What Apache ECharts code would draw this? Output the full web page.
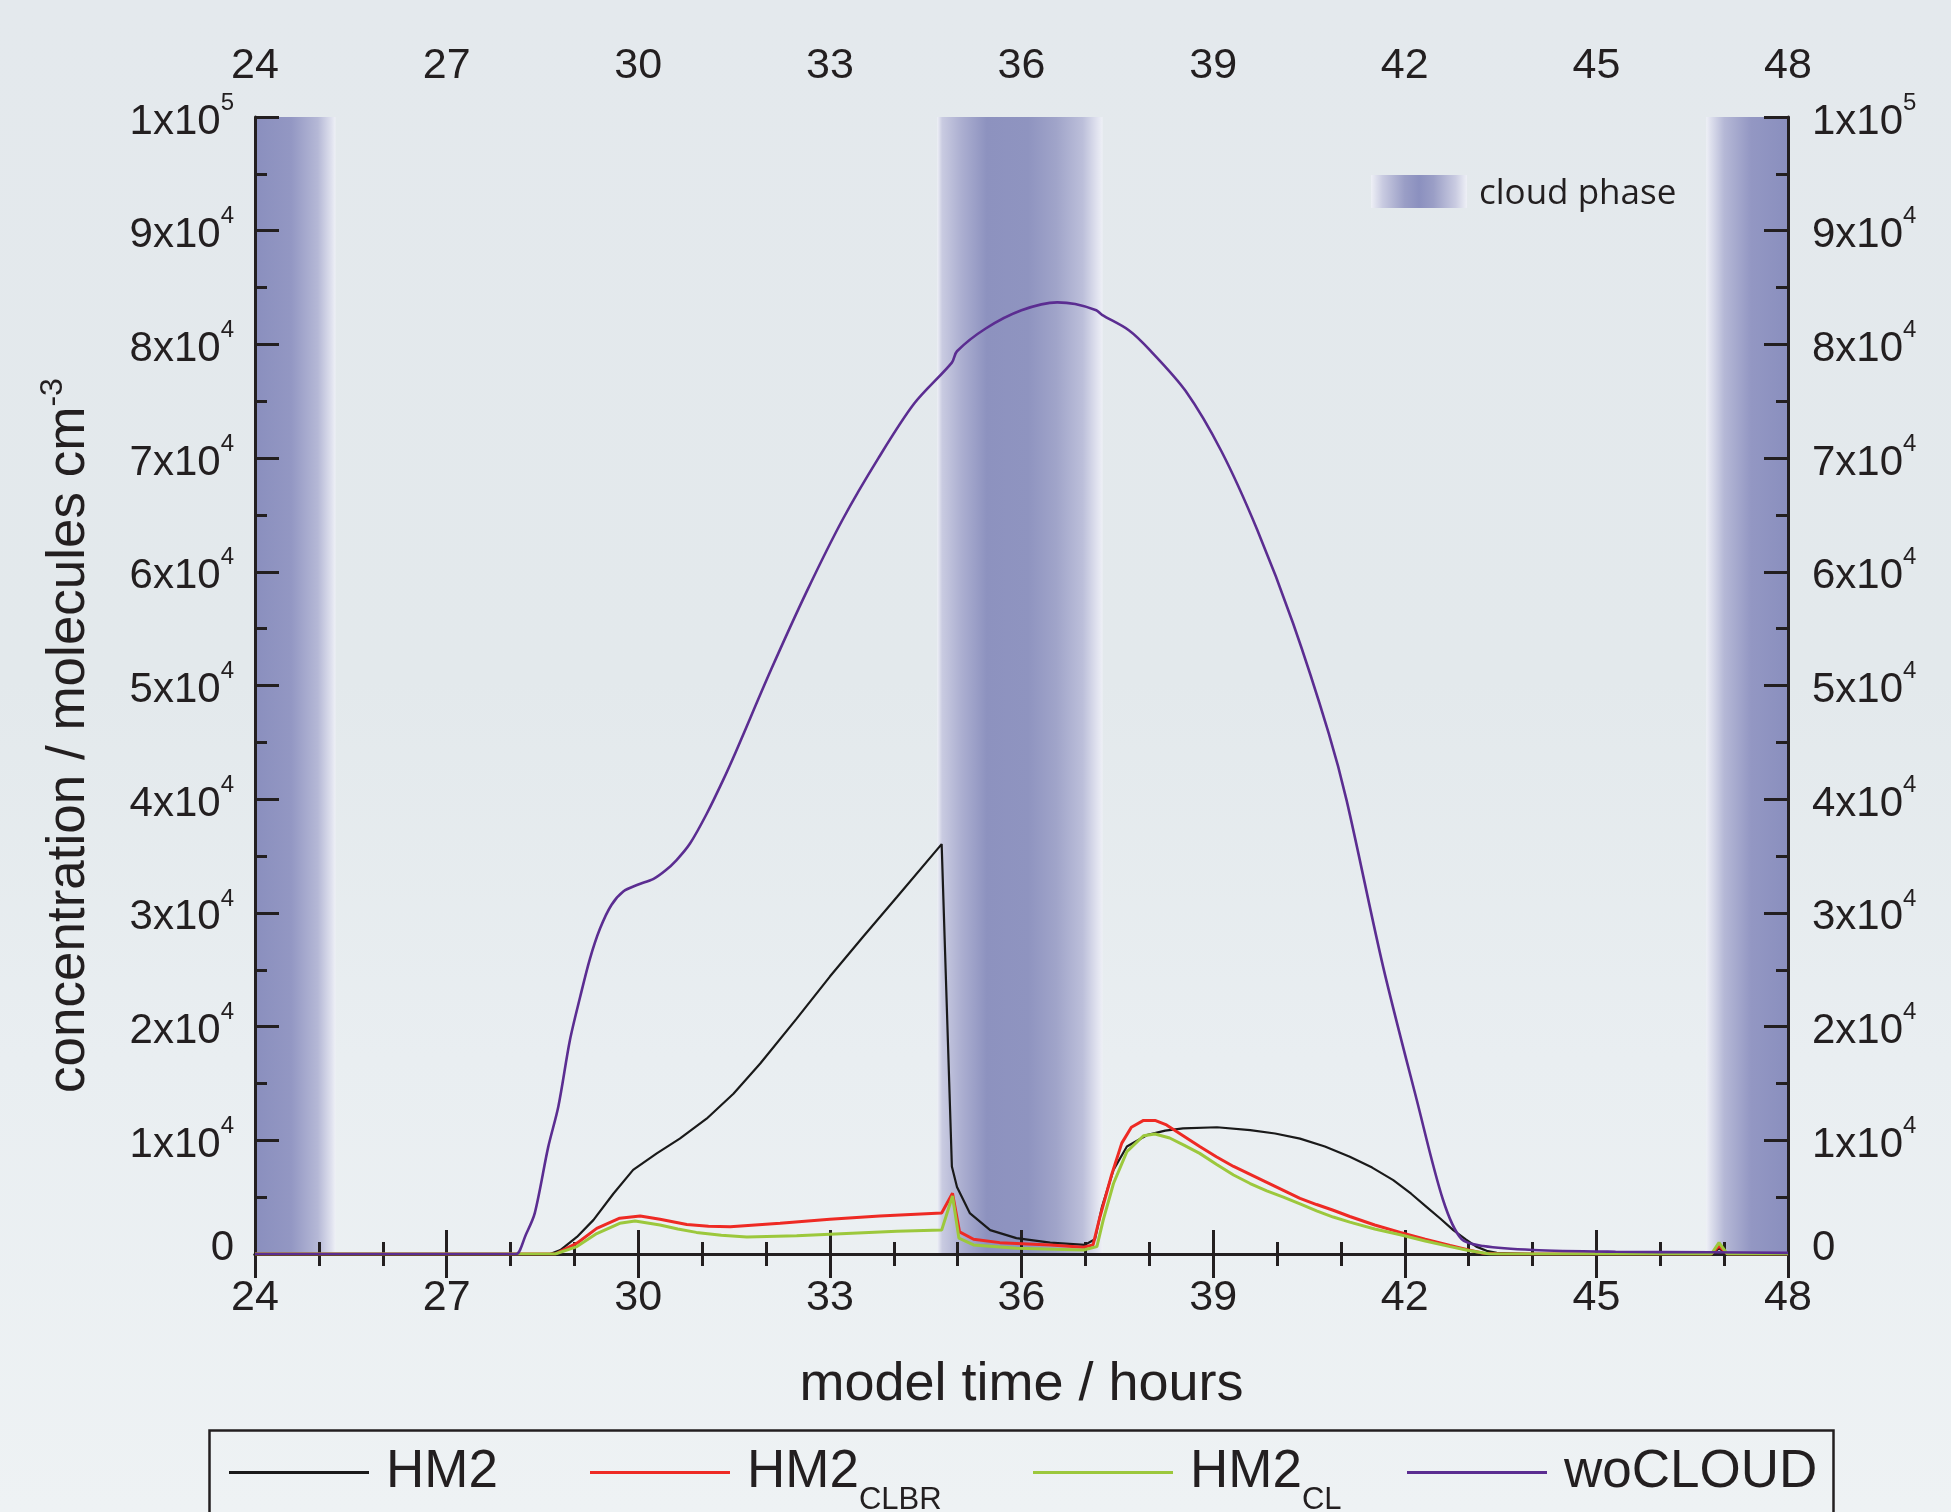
<!DOCTYPE html>
<html><head><meta charset="utf-8">
<script src="https://cdn.jsdelivr.net/npm/echarts@6/dist/echarts.min.js"></script>
<style>html,body{margin:0;padding:0;background:#e8edf0}#c{width:1951px;height:1512px}</style>
</head><body><div id="c"></div>
<script>
// ---- data: [model time (h), concentration (molecules cm^-3)] ----
const hm2 = [[24,0],[28.62,0],[28.78,350],[29.04,1500],[29.30,3000],[29.61,5300],[29.92,7400],[30.29,8850],[30.65,10150],[31.07,11900],[31.49,14100],[31.91,16750],[32.48,20700],[33.00,24400],[33.52,27900],[34.05,31400],[34.75,36050],[34.91,7700],[34.99,5900],[35.19,3600],[35.51,2100],[35.92,1400],[36.45,1000],[36.99,800],[37.15,1300],[37.26,4150],[37.44,7400],[37.65,9450],[37.96,10450],[38.25,10850],[38.53,11050],[39.06,11150],[39.58,10900],[39.97,10600],[40.36,10150],[40.75,9450],[41.14,8550],[41.49,7600],[41.82,6500],[42.10,5300],[42.34,4150],[42.56,3100],[42.76,2100],[42.95,1300],[43.12,650],[43.30,250],[43.44,100],[44,0],[46.8,0],[46.92,500],[47.05,0],[48,0]];
const hm2clbr = [[24,0],[28.7,0],[29.04,950],[29.35,2250],[29.71,3150],[30.03,3350],[30.34,3050],[30.76,2600],[31.10,2450],[31.44,2400],[32.22,2700],[33.00,3050],[33.78,3350],[34.75,3600],[34.92,5350],[35.03,1950],[35.25,1300],[35.66,1000],[36.45,800],[36.97,600],[37.12,800],[37.23,3300],[37.41,6950],[37.57,9750],[37.72,11150],[37.91,11750],[38.09,11750],[38.27,11350],[38.53,10400],[38.79,9450],[39.05,8550],[39.32,7700],[39.58,7000],[39.84,6300],[40.10,5600],[40.36,4900],[40.62,4350],[40.88,3850],[41.14,3300],[41.53,2550],[41.93,1900],[42.32,1300],[42.71,750],[43.00,350],[43.23,60],[43.5,0],[46.8,0],[46.92,700],[47.05,0],[48,0]];
const hm2cl = [[24,0],[28.7,0],[29.04,650],[29.35,1800],[29.71,2700],[29.95,2900],[30.34,2550],[30.62,2200],[30.91,1900],[31.30,1650],[31.70,1500],[32.48,1600],[33.26,1800],[34.05,2000],[34.75,2100],[34.92,5100],[35.02,1400],[35.25,800],[35.92,500],[36.97,350],[37.18,650],[37.28,3000],[37.44,6200],[37.65,9000],[37.91,10400],[38.09,10550],[38.32,10200],[38.55,9550],[38.79,8850],[39.05,7900],[39.32,6950],[39.58,6200],[39.84,5550],[40.10,5000],[40.36,4400],[40.62,3800],[40.88,3250],[41.14,2800],[41.53,2200],[41.93,1700],[42.32,1150],[42.71,650],[43.00,300],[43.33,0],[46.8,0],[46.92,1000],[47.05,0],[48,0]];
const wocloud = [[24,0],[27.95,0],[28.09,0],[28.24,1700],[28.38,3600],[28.59,9400],[28.75,13000],[28.93,18800],[29.09,22600],[29.24,25900],[29.40,28600],[29.58,30700],[29.77,31900],[29.98,32450],[30.24,33000],[30.42,33700],[30.60,34650],[30.81,36100],[31.07,38700],[31.33,41700],[31.53,44200],[32.08,51400],[32.64,58300],[33.20,64600],[33.76,70000],[34.32,74800],[34.91,78400],[34.99,79400],[35.44,81400],[36.00,83000],[36.56,83700],[36.84,83550],[37.17,83000],[37.26,82600],[37.68,81250],[38.01,79500],[38.57,75900],[39.13,70600],[39.69,63700],[40.25,55500],[40.81,45800],[41.09,39900],[41.66,25300],[42.19,13500],[42.60,4750],[42.89,1300],[43.23,700],[44.01,350],[45.3,200],[46.78,150],[48,100]];
const cloudPhases = [[24,25.26],[34.68,37.27],[46.72,48]];
const seriesNames = ['HM2','HM2_CLBR','HM2_CL','woCLOUD'];
const xRange = [24,48], xStep = 3;
const yRange = [0,100000], yStep = 10000;

const FONT = 'Liberation Sans';
const INK = '#231f20';
const colors = ['#1a1a1a','#ee2a24','#9cc83c','#5b2d91'];
const widths = [2.2,3,3,2.6];
const smooths = [false,false,false,0.3];

const G = (stops)=>new echarts.graphic.LinearGradient(0,0,1,0,stops.map(s=>({offset:s[0],color:s[1]})));
const bandLeft = G([[0,'#8a8fbe'],[0.45,'#9397c3'],[0.78,'#b5b8d6'],[0.95,'#dfe1ee'],[1,'#eef0f6']]);
const bandMid = G([[0,'#eef0f6'],[0.03,'#c9cbe1'],[0.15,'#abaed0'],[0.3,'#8d92bf'],[0.55,'#8f94c0'],[0.72,'#a0a4c9'],[0.88,'#bcbfda'],[0.97,'#e2e4f0'],[1,'#eef0f6']]);
const bandRight = G([[0,'#eef0f6'],[0.05,'#dfe1ee'],[0.22,'#b5b8d6'],[0.55,'#9397c3'],[1,'#8a8fbe']]);
const bandStyles = [bandLeft, bandMid, bandRight];

const yFmt = v => v===0 ? '{z|0}' : (v===100000 ? '{b|1x10}{s|5}' : '{b|'+(v/10000)+'x10}{s|4}');
const yRich = {
  b:{fontSize:42,lineHeight:42,padding:[10,0,0,0],fontFamily:FONT,color:INK},
  s:{fontSize:24,lineHeight:24,padding:[0,0,28,0],fontFamily:FONT,color:INK},
  z:{fontSize:42,lineHeight:42,padding:[0,0,12,0],fontFamily:FONT,color:INK}
};
const axisLine = {show:true,lineStyle:{color:INK,width:3}};
const axisTick = {show:true,inside:true,length:24,lineStyle:{color:INK,width:3}};
const minorTickX = {show:true,splitNumber:3,length:12,lineStyle:{color:INK,width:3}};
const minorTickY = {show:true,splitNumber:2,length:12,lineStyle:{color:INK,width:3}};

const xBase = {type:'value',min:xRange[0],max:xRange[1],interval:xStep,z:3,axisLine,axisTick,minorTick:minorTickX,splitLine:{show:false}};
const yBase = {type:'value',min:yRange[0],max:yRange[1],interval:yStep,z:3,axisLine,axisTick,minorTick:minorTickY,splitLine:{show:false}};

const legendFmt = n => n==='HM2_CLBR' ? '{m|HM2}{u|CLBR}' : (n==='HM2_CL' ? '{m|HM2}{u|CL}' : '{m|'+n+'}');
const legendRich = {
  m:{fontSize:53,lineHeight:53,padding:[17,0,17,0],fontFamily:FONT,color:INK},
  u:{fontSize:31,lineHeight:31,padding:[56,0,0,0],fontFamily:FONT,color:INK}
};
const legendLefts = [229,590,1033,1407];

const chart = echarts.init(document.getElementById('c'));
chart.setOption({
  animation:false,
  backgroundColor:new echarts.graphic.LinearGradient(0,0,0,1,[{offset:0,color:'#e4e9ed'},{offset:0.45,color:'#e3e9ec'},{offset:0.7,color:'#e9eef1'},{offset:1,color:'#eef2f4'}]),
  grid:{left:255,top:117,width:1533,height:1137,containLabel:false},
  xAxis:[
    Object.assign({},xBase,{position:'bottom',axisLabel:{fontSize:43,fontFamily:FONT,color:INK,margin:23},
      name:'model time / hours',nameLocation:'middle',nameGap:104,nameTextStyle:{fontSize:54,fontFamily:FONT,color:INK}}),
    Object.assign({},xBase,{position:'top',axisLabel:{fontSize:43,fontFamily:FONT,color:INK,margin:29}})
  ],
  yAxis:[
    Object.assign({},yBase,{position:'left',axisLabel:{margin:21,formatter:yFmt,rich:yRich},
      name:'{m|concentration / molecules cm}{s|-3}',nameLocation:'middle',nameGap:165,
      nameTextStyle:{padding:[0,100,0,0],rich:{m:{fontSize:53,lineHeight:53,padding:[11,0,0,0],fontFamily:FONT,color:INK},s:{fontSize:32,lineHeight:32,verticalAlign:'top',fontFamily:FONT,color:INK}}}}),
    Object.assign({},yBase,{position:'right',axisLabel:{margin:24,formatter:yFmt,rich:yRich}})
  ],
  legend: seriesNames.map((n,i)=>({data:[n],left:legendLefts[i],top:1429,padding:0,icon:'rect',itemWidth:140,itemHeight:3,
    itemStyle:{borderWidth:0},formatter:legendFmt,textStyle:{padding:[0,0,0,12],rich:legendRich}})),
  graphic:[
    {type:'rect',left:207,top:1428,shape:{width:1624,height:140},style:{fill:'none',stroke:INK,lineWidth:2.5},z:10},
    {type:'rect',x:1371,y:175,shape:{width:96,height:33},style:{fill:G([[0,'#eef0f6'],[0.12,'#c9cbe1'],[0.35,'#9a9ec6'],[0.5,'#8b90bf'],[0.65,'#9a9ec6'],[0.88,'#c9cbe1'],[1,'#eef0f6']])},z:10},
    {type:'text',x:1479,y:194,style:{text:'cloud phase',fontSize:35,fontFamily:'Open Sans',fill:INK,verticalAlign:'middle'},z:10}
  ],
  series:[
    {name:'bands',type:'line',data:[],z:1,silent:true,
      markArea:{silent:true,label:{show:false},data:cloudPhases.map((b,i)=>[{xAxis:b[0],itemStyle:{color:bandStyles[i]}},{xAxis:b[1]}])}},
    ...[hm2,hm2clbr,hm2cl,wocloud].map((d,i)=>({name:seriesNames[i],type:'line',data:d,z:4,showSymbol:false,symbol:'none',
      color:colors[i],lineStyle:{color:colors[i],width:widths[i]},smooth:smooths[i]}))
  ]
});
</script></body></html>
